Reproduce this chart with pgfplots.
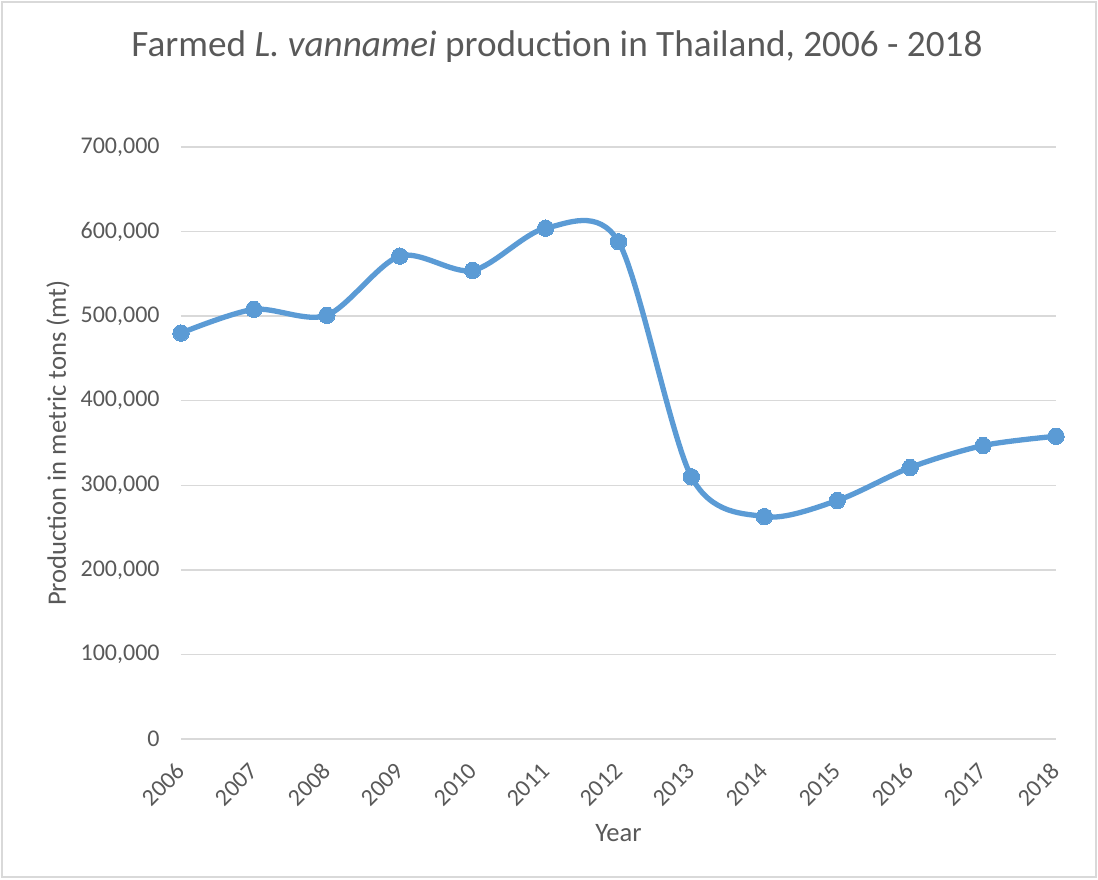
\documentclass[border=0pt]{standalone}
\usepackage{pgfplots}
\pgfplotsset{compat=1.18}
\usepackage{fontspec}
\setmainfont{Carlito}
\definecolor{txtc}{HTML}{595959}
\definecolor{gridc}{HTML}{D9D9D9}
\definecolor{linec}{HTML}{5B9BD5}
\begin{document}
\begin{tikzpicture}
\useasboundingbox (0,0) rectangle (549pt,439.5pt);
\draw[gridc, line width=0.6pt] (1pt,1pt) rectangle (548pt,438.5pt);
\node[text=txtc, font=\fontsize{18.6pt}{22pt}\selectfont] at (278.5pt,416pt) {Farmed \textit{L. vannamei} production in Thailand, 2006 - 2018};
\begin{axis}[
  at={(90.5pt,70pt)}, anchor=south west,
  scale only axis, width=437.5pt, height=296pt,
  xmin=2006, xmax=2018, ymin=0, ymax=700000,
  xtick={2006,2007,2008,2009,2010,2011,2012,2013,2014,2015,2016,2017,2018},
  xticklabels={2006,2007,2008,2009,2010,2011,2012,2013,2014,2015,2016,2017,2018},
  ytick={0,100000,200000,300000,400000,500000,600000,700000},
  yticklabels={0,{100,000},{200,000},{300,000},{400,000},{500,000},{600,000},{700,000}},
  axis line style={draw=none},
  major tick length=0pt,
  ymajorgrids, grid style={draw=gridc, line width=0.75pt},
  scaled y ticks=false,
  xticklabel style={yshift=-14pt, rotate=45, anchor=east, font=\fontsize{12pt}{14pt}\selectfont, text=txtc, inner sep=0pt},
  yticklabel style={font=\fontsize{12pt}{14pt}\selectfont, text=txtc, inner sep=0pt, anchor=east, xshift=-10.5pt},
  xlabel={Year}, ylabel={Production in metric tons (mt)},
  label style={font=\fontsize{13.3pt}{16pt}\selectfont, text=txtc},
  xlabel style={at={(axis description cs:0.5,0)}, anchor=center, yshift=-47pt},
  ylabel style={at={(axis description cs:-0.1406,0.5)}, anchor=center},
  clip=false,
]
\addplot[draw=linec, line width=2.65pt, smooth, mark=*, mark size=4.1pt, mark options={fill=linec, draw=linec, line width=0pt}] coordinates {
(2006,480000) (2007,508000) (2008,501000) (2009,571000) (2010,554000) (2011,604000) (2012,588000) (2013,310000) (2014,263000) (2015,282000) (2016,321000) (2017,347000) (2018,358000)
};
\end{axis}
\end{tikzpicture}
\end{document}
